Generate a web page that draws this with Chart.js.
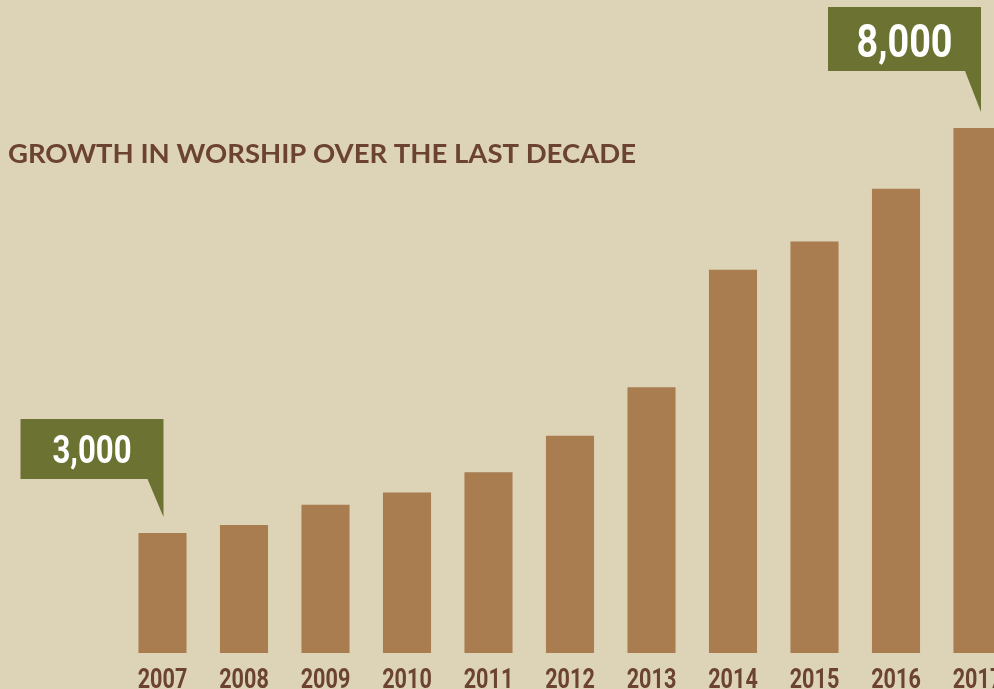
<!DOCTYPE html>
<html>
<head>
<meta charset="utf-8">
<script src="https://cdn.jsdelivr.net/npm/chart.js@4"></script>
<style>
    html, body { margin: 0; padding: 0; background: #ddd3b6; overflow: hidden; }
    #wrap { width: 1020px; height: 689px; }
</style>
</head>
<body>
<div id="wrap"><canvas id="chart" width="1020" height="689"></canvas></div>
<script>
// data
const years = ["2007", "2008", "2009", "2010", "2011", "2012", "2013", "2014", "2015", "2016", "2017"];
const worship = [3000, 3100, 3350, 3500, 3750, 4200, 4800, 6250, 6600, 7250, 8000];
const callouts = [
    { index: 0, text: "3,000" },
    { index: 10, text: "8,000" }
];
const title = "GROWTH IN WORSHIP OVER THE LAST DECADE";

const bg = "#ddd3b6";
const barColor = "#a97d50";
const green = "#6b7232";
const brown = "#6b4330";

// draws text squeezed sideways, the reference uses a condensed face
function narrowText(ctx, text, x, y, size, squeeze) {
    ctx.save();
    ctx.font = "bold " + size + "px Roboto";
    ctx.textAlign = "center";
    ctx.textBaseline = "alphabetic";
    ctx.translate(x, y);
    ctx.scale(squeeze, 1);
    ctx.fillText(text, 0, 0);
    ctx.restore();
}

// title, year labels and the green value boxes
const decorations = {
    id: 'decorations',
    beforeDraw(chart) {
        const ctx = chart.ctx;
        ctx.save();
        ctx.fillStyle = bg;
        ctx.fillRect(0, 0, chart.width, chart.height);
        ctx.restore();
    },
    afterDraw(chart) {
        const ctx = chart.ctx;
        const x = chart.scales.x;
        const meta = chart.getDatasetMeta(0);
        ctx.save();

        ctx.fillStyle = brown;
        ctx.font = "bold 27.5px Lato";
        ctx.textBaseline = "alphabetic";
        ctx.textAlign = "left";
        ctx.fillText(title, 8, 163);

        years.forEach((y, i) => {
            narrowText(ctx, y, x.getPixelForValue(i), 688, 27, 0.8);
        });

        callouts.forEach(c => {
            const bar = meta.data[c.index];
            const big = c.index === years.length - 1;
            const tipX = bar.x + (big ? 3.5 : 1);
            const tipY = bar.y - 16;
            const w = big ? 153 : 143;
            const h = big ? 64 : 60;
            const tail = big ? 41 : 38;
            const boxBottom = tipY - tail;
            ctx.fillStyle = green;
            ctx.beginPath();
            ctx.moveTo(tipX - w, boxBottom - h);
            ctx.lineTo(tipX, boxBottom - h);
            ctx.lineTo(tipX, tipY);
            ctx.lineTo(tipX - 16, boxBottom);
            ctx.lineTo(tipX - w, boxBottom);
            ctx.closePath();
            ctx.fill();
            ctx.fillStyle = "#ffffff";
            if (big) {
                narrowText(ctx, c.text, tipX - w / 2, boxBottom - 14, 46, 0.82);
            } else {
                narrowText(ctx, c.text, tipX - w / 2, boxBottom - 16, 38, 0.82);
            }
        });
        ctx.restore();
    }
};

new Chart(document.getElementById("chart"), {
    type: 'bar',
    data: {
        labels: years,
        datasets: [{
            data: worship,
            backgroundColor: barColor,
            borderWidth: 0,
            barPercentage: 0.59,
            categoryPercentage: 1
        }]
    },
    options: {
        responsive: false,
        animation: false,
        layout: { padding: { left: 121.75, right: 1.75, top: 0, bottom: 36 } },
        plugins: { legend: { display: false }, tooltip: { enabled: false } },
        scales: {
            x: { display: false },
            y: { display: false, min: 1520, max: 9580 }
        }
    },
    plugins: [decorations]
});
</script>
</body>
</html>
